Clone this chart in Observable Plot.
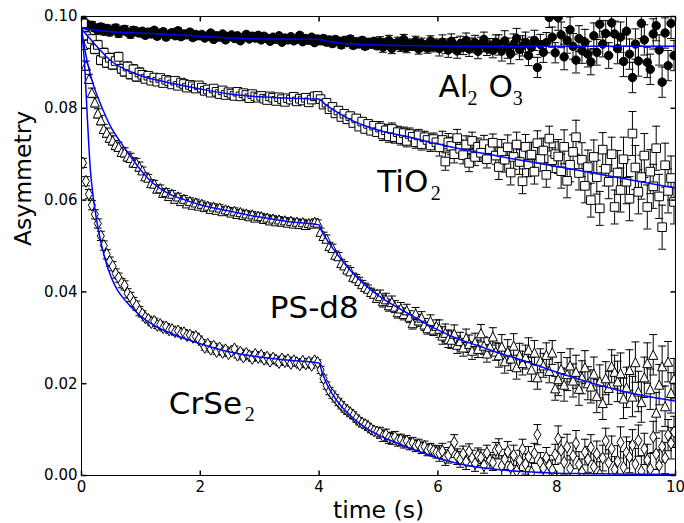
<!DOCTYPE html>
<html>
<head>
<meta charset="utf-8">
<script src="https://cdn.jsdelivr.net/npm/d3@7"></script>
<script src="https://cdn.jsdelivr.net/npm/@observablehq/plot@0.6"></script>
<style>
  body { margin: 0; background: #fff; }
</style>
</head>
<body>
<script>
// Axis ticks and their labels
const xTicks = [0, 2, 4, 6, 8, 10];
const xTickLabels = ["0", "2", "4", "6", "8", "10"];
const yTicks = [0, 0.02, 0.04, 0.06, 0.08, 0.10];
const yTickLabels = ["0.00", "0.02", "0.04", "0.06", "0.08", "0.10"];

// Asymmetry values are stored in units of 1e-4
const SCALE = 1e-4;
// Bin centres (s): 200 bins of 0.05 s
const binWidth = 0.05;
const time = d3.range(200).map(i => +(binWidth * (i + 0.5)).toFixed(3));

// Binned asymmetry, one row per second
const al2o3 = [
  992, 984, 979, 981, 975, 970, 977, 968, 974, 966, 971, 975, 963, 969, 972, 966, 961, 970, 967, 964,
  968, 959, 966, 962, 970, 957, 963, 967, 955, 961, 965, 958, 969, 956, 962, 960, 966, 954, 961, 958,
  961, 953, 957, 964, 950, 958, 955, 962, 949, 956, 960, 952, 958, 947, 955, 961, 951, 957, 953, 959,
  949, 957, 952, 946, 955, 950, 958, 944, 953, 949, 956, 947, 951, 959, 945, 952, 948, 955, 943, 951,
  947, 952, 944, 949, 941, 950, 946, 938, 948, 943, 951, 937, 945, 940, 948, 935, 944, 939, 946, 936,
  945, 933, 941, 948, 930, 939, 944, 935, 950, 932, 940, 937, 946, 929, 942, 936, 931, 947, 934, 940,
  930, 944, 935, 927, 946, 938, 925, 941, 933, 948, 929, 937, 943, 924, 939, 950, 931, 936, 926, 944,
  938, 925, 947, 931, 919, 940, 952, 928, 936, 944, 915, 933, 948, 889, 939, 922, 943, 998, 955, 921,
  998, 960, 912, 948, 971, 935, 905, 952, 926, 944, 918, 901, 958, 922, 983, 940, 963, 915, 986, 962,
  930, 955, 902, 968, 918, 867, 940, 903, 985, 949, 900, 885, 962, 980, 927, 857, 964, 893, 985, 915
];
const tio2 = [
  985, 957, 940, 951, 929, 938, 905, 921, 899, 910, 895, 903, 912, 886, 880, 891, 874, 885, 869, 878,
  873, 864, 871, 860, 867, 858, 866, 855, 862, 859, 852, 860, 849, 856, 853, 845, 851, 848, 843, 850,
  845, 838, 841, 834, 843, 836, 831, 839, 829, 835, 832, 827, 836, 826, 833, 829, 822, 831, 826, 823,
  827, 821, 818, 826, 823, 816, 824, 820, 814, 822, 819, 825, 815, 821, 817, 823, 813, 819, 826, 827,
  820, 808, 812, 798, 803, 789, 795, 781, 788, 776, 783, 768, 778, 760, 771, 755, 766, 751, 762, 748,
  758, 743, 752, 739, 755, 737, 748, 733, 746, 729, 744, 738, 726, 741, 722, 737, 731, 719, 733, 726,
  715, 731, 684, 726, 718, 700, 735, 712, 698, 721, 681, 729, 694, 716, 703, 722, 689, 711, 725, 697,
  672, 705, 688, 715, 660, 694, 721, 683, 641, 716, 678, 699, 662, 724, 690, 708, 655, 734, 687, 700,
  695, 663, 716, 642, 677, 705, 737, 659, 688, 631, 672, 600, 694, 650, 582, 710, 668, 640, 700, 585,
  660, 622, 689, 640, 603, 745, 671, 618, 650, 697, 585, 662, 630, 713, 608, 541, 676, 620, 648, 596
];
const psd8 = [
  938, 893, 864, 834, 813, 789, 774, 755, 747, 736, 730, 720, 716, 705, 704, 695, 692, 682, 681, 673,
  665, 652, 649, 637, 636, 625, 626, 616, 618, 609, 614, 603, 608, 598, 603, 593, 598, 590, 595, 588,
  592, 585, 588, 581, 586, 579, 584, 576, 580, 578, 573, 577, 570, 574, 568, 571, 565, 569, 562, 566,
  565, 559, 562, 556, 560, 554, 558, 553, 556, 551, 555, 549, 553, 548, 552, 546, 550, 549, 553, 551,
  531, 522, 516, 500, 496, 481, 478, 463, 458, 449, 445, 433, 430, 424, 417, 411, 407, 400, 396, 387,
  391, 380, 384, 371, 378, 368, 356, 364, 352, 360, 346, 332, 353, 338, 344, 329, 321, 337, 318, 326,
  320, 305, 311, 298, 296, 309, 285, 293, 279, 300, 287, 272, 291, 276, 310, 283, 266, 281, 303, 270,
  262, 281, 249, 270, 255, 283, 236, 262, 245, 258, 274, 231, 268, 214, 250, 240, 263, 228, 268, 190,
  210, 232, 198, 221, 240, 207, 226, 189, 214, 236, 201, 194, 222, 173, 205, 158, 212, 191, 238, 226,
  205, 223, 168, 192, 230, 172, 247, 183, 160, 214, 245, 188, 263, 137, 198, 238, 151, 248, 180, 211
];
const crse2 = [
  681, 641, 613, 589, 569, 549, 522, 501, 482, 466, 456, 440, 431, 419, 414, 397, 389, 378, 370, 358,
  352, 344, 340, 333, 336, 327, 329, 322, 324, 317, 318, 313, 315, 309, 311, 305, 306, 301, 303, 297,
  290, 279, 286, 275, 282, 270, 278, 268, 274, 265, 271, 276, 262, 269, 258, 266, 261, 255, 264, 257,
  262, 253, 258, 249, 256, 251, 246, 254, 248, 252, 244, 250, 246, 241, 249, 243, 247, 240, 250, 246,
  230, 211, 196, 184, 176, 168, 160, 153, 146, 141, 136, 131, 124, 118, 114, 111, 106, 101, 97, 95,
  93, 86, 89, 82, 80, 84, 76, 78, 72, 75, 68, 71, 64, 67, 60, 63, 55, 58, 54, 50,
  48, 53, 39, 44, 56, 72, 41, 35, 47, 30, 52, 38, 26, 43, 39, 22, 49, 33, 28, 55,
  58, 21, 35, 52, 18, 44, 10, 33, 57, 25, 41, 6, 48, 89, 28, 16, 39, 22, 12, 46,
  80, 55, 29, 62, 15, 43, 70, 24, 8, 51, 35, 61, 19, 47, 2, 38, 75, 28, 58, 13,
  31, 72, 18, 50, 40, 66, 25, 76, 9, 58, 34, 14, 84, 47, 22, 63, 38, 88, 70, 95
];

// Statistical uncertainty (1e-4 units), one value per second of the cycle
const al2o3Err = [8, 6, 5, 5, 7, 11, 16, 22, 28, 33];
const tio2Err  = [10, 7, 6, 6, 8, 13, 19, 27, 37, 48];
const psd8Err  = [10, 7, 6, 6, 8, 13, 19, 26, 36, 44];
const crse2Err = [10, 7, 6, 6, 8, 12, 17, 22, 28, 34];

// Fitted curves, [time (s), asymmetry in 1e-4 units]
const al2o3Fit = [[0,974],[0.5,967],[1,964],[1.5,961],[2,957],[2.7,952],[3.3,951],[4,950],[4.15,946],[4.3,943],[4.6,940],[5,938],[6,936],[7,935],[10,935]];
const tio2Fit = [[0,973],[0.1,958],[0.2,943],[0.3,929],[0.4,915],[0.5,903],[0.75,884],[1,871],[1.25,862],[1.5,855],[2,842],[2.5,831],[3,825],[3.5,822],[4,820],[4.1,809],[4.25,796],[4.5,777],[4.75,763],[5,752],[5.5,738],[6,722],[6.5,708],[7,696],[8,673],[9,650],[10,626]];
const psd8Fit = [[0,974],[0.05,932],[0.1,900],[0.15,873],[0.2,851],[0.3,816],[0.4,785],[0.5,758],[0.6,737],[0.7,718],[0.8,700],[0.9,682],[1,665],[1.12,647],[1.3,627],[1.5,612],[1.75,600],[2,590],[2.5,576],[3,563],[3.5,553],[4,546],[4.03,536],[4.1,520],[4.25,492],[4.4,466],[4.54,445],[4.7,424],[4.82,410],[5,392],[5.2,375],[5.4,360],[5.66,341],[5.94,321],[6.22,304],[6.5,290],[6.78,278],[7,268],[7.5,248],[7.84,232],[8.5,205],[9,187],[9.5,173],[10,162]];
const crse2Fit = [[0,975],[0.05,900],[0.1,775],[0.15,665],[0.2,605],[0.25,560],[0.3,525],[0.4,470],[0.5,432],[0.6,405],[0.7,387],[0.8,372],[1,347],[1.25,325],[1.5,310],[1.75,298],[2,287],[2.5,269],[3,258],[3.5,251],[4,245],[4.05,225],[4.1,208],[4.2,182],[4.3,163],[4.4,147],[4.5,134],[4.6,122],[4.7,112],[4.8,103],[4.9,95],[5,88],[5.25,74],[5.5,61],[5.75,49],[6,38],[6.25,29],[6.5,22],[6.75,17],[7,13],[7.5,8],[8,5],[8.5,4],[9,3],[10,2]];

// Sample labels: main text and subscripts, placed in data coordinates
const labelMain = [
  {s: "Al", t: 6.01, a: 0.0824},
  {s: "O", t: 6.85, a: 0.0824},
  {s: "TiO", t: 4.98, a: 0.0617},
  {s: "PS-d8", t: 3.17, a: 0.0344},
  {s: "CrSe", t: 1.47, a: 0.0135}
];
const labelSub = [
  {s: "2", t: 6.50, a: 0.0808},
  {s: "3", t: 7.26, a: 0.0808},
  {s: "2", t: 5.88, a: 0.0601},
  {s: "2", t: 2.75, a: 0.0118}
];

// Marker shapes; r is the half-size passed through Plot's r option
const unit = size => Math.sqrt(size / Math.PI);
const circle = {draw(c, s) { const r = unit(s); c.moveTo(r, 0); c.arc(0, 0, r, 0, 2 * Math.PI); }};
const square = {draw(c, s) { const r = unit(s); c.rect(-r, -r, 2 * r, 2 * r); }};
const triangle = {draw(c, s) { const r = unit(s); c.moveTo(0, -r); c.lineTo(r, r); c.lineTo(-r, r); c.closePath(); }};
const thinDiamond = {draw(c, s) { const r = unit(s); c.moveTo(0, -r); c.lineTo(0.6 * r, 0); c.lineTo(0, r); c.lineTo(-0.6 * r, 0); c.closePath(); }};
const cap = {draw(c, s) { const r = unit(s); c.moveTo(-r, 0); c.lineTo(r, 0); }};
const tickUp = {draw(c, s) { c.moveTo(0, 0); c.lineTo(0, -unit(s)); }};
const tickDown = {draw(c, s) { c.moveTo(0, 0); c.lineTo(0, unit(s)); }};
const tickRight = {draw(c, s) { c.moveTo(0, 0); c.lineTo(unit(s), 0); }};
const tickLeft = {draw(c, s) { c.moveTo(0, 0); c.lineTo(-unit(s), 0); }};

function rows(values, errs) {
  return values.map((v, i) => {
    const t = time[i];
    const e = errs[Math.min(errs.length - 1, Math.floor(t))] * SCALE;
    const a = v * SCALE;
    return {t, a, lo: a - e, hi: a + e};
  });
}

function seriesMarks(data, symbol, r, fill) {
  return [
    Plot.ruleX(data, {x: "t", y1: "lo", y2: "hi", stroke: "#000", strokeWidth: 1, clip: true}),
    Plot.dot(data, {x: "t", y: "hi", symbol: cap, r: 4, fill: "none", stroke: "#000", strokeWidth: 1, clip: true}),
    Plot.dot(data, {x: "t", y: "lo", symbol: cap, r: 4, fill: "none", stroke: "#000", strokeWidth: 1, clip: true}),
    Plot.dot(data, {x: "t", y: "a", symbol, r, fill, stroke: "#000", strokeWidth: 1, clip: true})
  ];
}

function fitLine(fit) {
  return Plot.line(fit, {x: d => d[0], y: d => d[1] * SCALE, stroke: "#0000ff", strokeWidth: 1.5, curve: "monotone-x", clip: true});
}

const chart = Plot.plot({
  width: 684,
  height: 523,
  marginLeft: 81,
  marginRight: 9,
  marginTop: 16,
  marginBottom: 48,
  x: {domain: [0, 10], axis: null},
  y: {domain: [0, 0.10], axis: null},
  style: {fontFamily: "'DejaVu Sans', sans-serif", fontSize: "15px", color: "#000", background: "#fff"},
  marks: [
    ...seriesMarks(rows(al2o3, al2o3Err), circle, 4.2, "#000"),
    ...seriesMarks(rows(tio2, tio2Err), square, 4.3, "#fff"),
    ...seriesMarks(rows(psd8, psd8Err), triangle, 4.6, "#fff"),
    ...seriesMarks(rows(crse2, crse2Err), thinDiamond, 5.9, "#fff"),
    fitLine(al2o3Fit),
    fitLine(tio2Fit),
    fitLine(psd8Fit),
    fitLine(crse2Fit),
    // inward ticks on all four sides
    Plot.dot(xTicks, {x: d => d, frameAnchor: "bottom", symbol: tickUp, r: 5, fill: "none", stroke: "#000"}),
    Plot.dot(xTicks, {x: d => d, frameAnchor: "top", symbol: tickDown, r: 5, fill: "none", stroke: "#000"}),
    Plot.dot(yTicks, {y: d => d, frameAnchor: "left", symbol: tickRight, r: 5, fill: "none", stroke: "#000"}),
    Plot.dot(yTicks, {y: d => d, frameAnchor: "right", symbol: tickLeft, r: 5, fill: "none", stroke: "#000"}),
    Plot.frame({stroke: "#000", strokeWidth: 1}),
    // tick labels
    Plot.text(xTicks, {x: d => d, frameAnchor: "bottom", lineAnchor: "top", dy: 6, text: (d, i) => xTickLabels[i], fontSize: 15, fill: "#000"}),
    Plot.text(yTicks, {y: d => d, frameAnchor: "left", textAnchor: "end", dx: -4, text: (d, i) => yTickLabels[i], fontSize: 15, fill: "#000"}),
    // axis titles
    Plot.text(["Asymmetry"], {frameAnchor: "left", dx: -58, rotate: -90, text: d => d, fontSize: 23.5, fill: "#000"}),
    Plot.text(["time (s)"], {frameAnchor: "bottom", lineAnchor: "bottom", dy: 42, text: d => d, fontSize: 23.5, fill: "#000"}),
    // sample labels
    Plot.text(labelMain, {x: "t", y: "a", text: "s", textAnchor: "start", lineAnchor: "bottom", fontSize: 31, fill: "#000"}),
    Plot.text(labelSub, {x: "t", y: "a", text: "s", textAnchor: "start", lineAnchor: "bottom", fontSize: 20, fontFamily: "'Liberation Serif', serif", fill: "#000"})
  ]
});

document.body.appendChild(chart);
</script>
</body>
</html>
